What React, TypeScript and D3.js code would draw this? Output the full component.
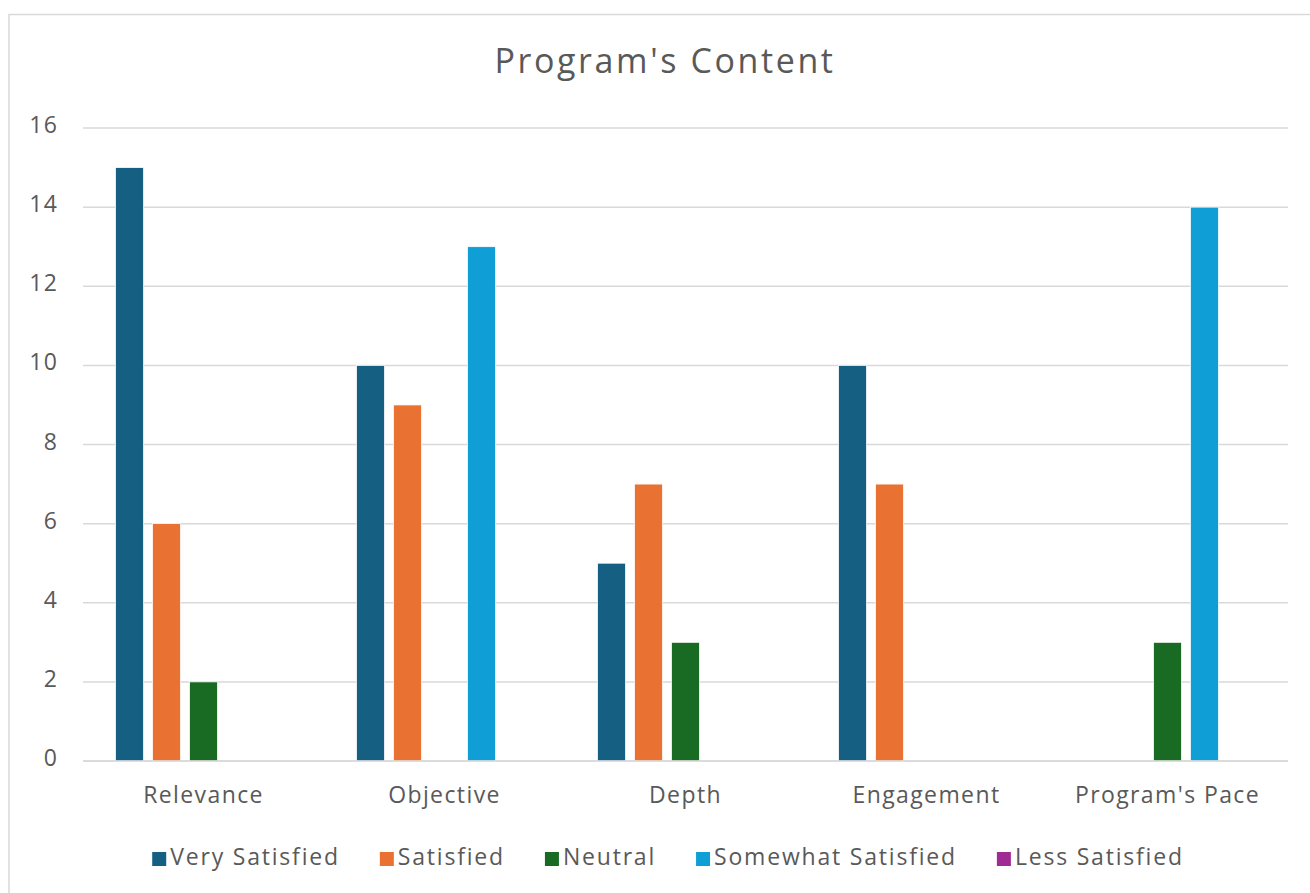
import React, { useEffect, useRef } from "react";
import * as d3 from "d3";

const categories = ["Relevance", "Objective", "Depth", "Engagement", "Program's Pace"];
const seriesNames = ["Very Satisfied", "Satisfied", "Neutral", "Somewhat Satisfied", "Less Satisfied"];
const seriesColors = ["#156082", "#E97132", "#196B24", "#0F9ED5", "#A02B93"];
const verySatisfied = [15, 10, 5, 10, 0];
const satisfied = [6, 9, 7, 7, 0];
const neutral = [2, 0, 3, 0, 3];
const somewhatSatisfied = [0, 13, 0, 0, 14];
const lessSatisfied = [0, 0, 0, 0, 0];
const yTicks = [0, 2, 4, 6, 8, 10, 12, 14, 16];
const title = "Program's Content";

const seriesValues = [verySatisfied, satisfied, neutral, somewhatSatisfied, lessSatisfied];

const W = 1310;
const H = 893;
const FONT = "'Open Sans', 'Noto Sans', sans-serif";
const TXT = "#595959";

export default function App() {
  const ref = useRef<SVGSVGElement>(null);

  useEffect(() => {
    const svg = d3.select(ref.current);
    svg.selectAll("*").remove();

    // chart area border
    svg.append("rect")
      .attr("x", 9).attr("y", 14.5).attr("width", 1330).attr("height", 900)
      .attr("fill", "#fff").attr("stroke", "#d9d9d9").attr("stroke-width", 1.5);

    const left = 83, right = 1288, top = 128, bottom = 761;
    const y = d3.scaleLinear().domain([0, 16]).range([bottom, top]);
    const x0 = d3.scaleBand<string>().domain(categories).range([left, right]).paddingInner(0.27).paddingOuter(0.135);
    const x1 = d3.scaleBand<string>().domain(seriesNames).range([0, x0.bandwidth()]).paddingInner(0.243).paddingOuter(0);

    // title
    svg.append("text").attr("x", 665).attr("y", 73).attr("text-anchor", "middle")
      .attr("font-family", FONT).attr("font-size", 34).attr("letter-spacing", 2.6)
      .attr("fill", TXT).text(title);

    // gridlines
    svg.append("g").selectAll("line").data(yTicks).join("line")
      .attr("x1", left).attr("x2", right)
      .attr("y1", d => y(d)).attr("y2", d => y(d))
      .attr("stroke", "#d9d9d9").attr("stroke-width", 1.5);

    // y tick labels
    svg.append("g").selectAll("text").data(yTicks).join("text")
      .attr("x", 58).attr("y", d => y(d) + 5).attr("text-anchor", "end")
      .attr("font-family", FONT).attr("font-size", 23).attr("letter-spacing", 1.2)
      .attr("fill", TXT).text(d => String(d));

    // bars
    const g = svg.append("g");
    seriesNames.forEach((s, si) => {
      g.append("g").selectAll("rect").data(seriesValues[si].map((v, ci) => ({ v, c: categories[ci] })))
        .join("rect")
        .attr("x", d => (x0(d.c) as number) + (x1(s) as number))
        .attr("y", d => y(d.v))
        .attr("width", x1.bandwidth())
        .attr("height", d => y(0) - y(d.v))
        .attr("fill", seriesColors[si])
        .attr("stroke", "#fff").attr("stroke-width", 0.75);
    });

    // baseline
    svg.append("line").attr("x1", left).attr("x2", right).attr("y1", y(0)).attr("y2", y(0))
      .attr("stroke", "#d9d9d9").attr("stroke-width", 1.5);

    // category labels
    svg.append("g").selectAll("text").data(categories).join("text")
      .attr("x", d => (x0(d) as number) + x0.bandwidth() / 2)
      .attr("y", 803).attr("text-anchor", "middle")
      .attr("font-family", FONT).attr("font-size", 23).attr("letter-spacing", 1.4)
      .attr("fill", TXT).text(d => d);

    // legend
    const lg = svg.append("g");
    const sq = 14, gapSqText = 4, gapItems = 40;
    const items = seriesNames.map((s, i) => {
      const it = lg.append("g");
      it.append("rect").attr("width", sq).attr("height", sq).attr("y", 852).attr("fill", seriesColors[i]);
      const t = it.append("text").attr("x", sq + gapSqText).attr("y", 865)
        .attr("font-family", FONT).attr("font-size", 23).attr("letter-spacing", 1.8)
        .attr("fill", TXT).text(s);
      const w = (t.node() as SVGTextElement).getComputedTextLength();
      return { it, w: sq + gapSqText + w };
    });
    const total = d3.sum(items, d => d.w) + gapItems * (items.length - 1);
    let cx = 668 - total / 2;
    items.forEach(d => {
      d.it.attr("transform", `translate(${cx},0)`);
      cx += d.w + gapItems;
    });
  }, []);

  return (
    <svg ref={ref} width={W} height={H}
      style={{ position: "absolute", left: 0, top: 0, display: "block", background: "#fff" }} />
  );
}
